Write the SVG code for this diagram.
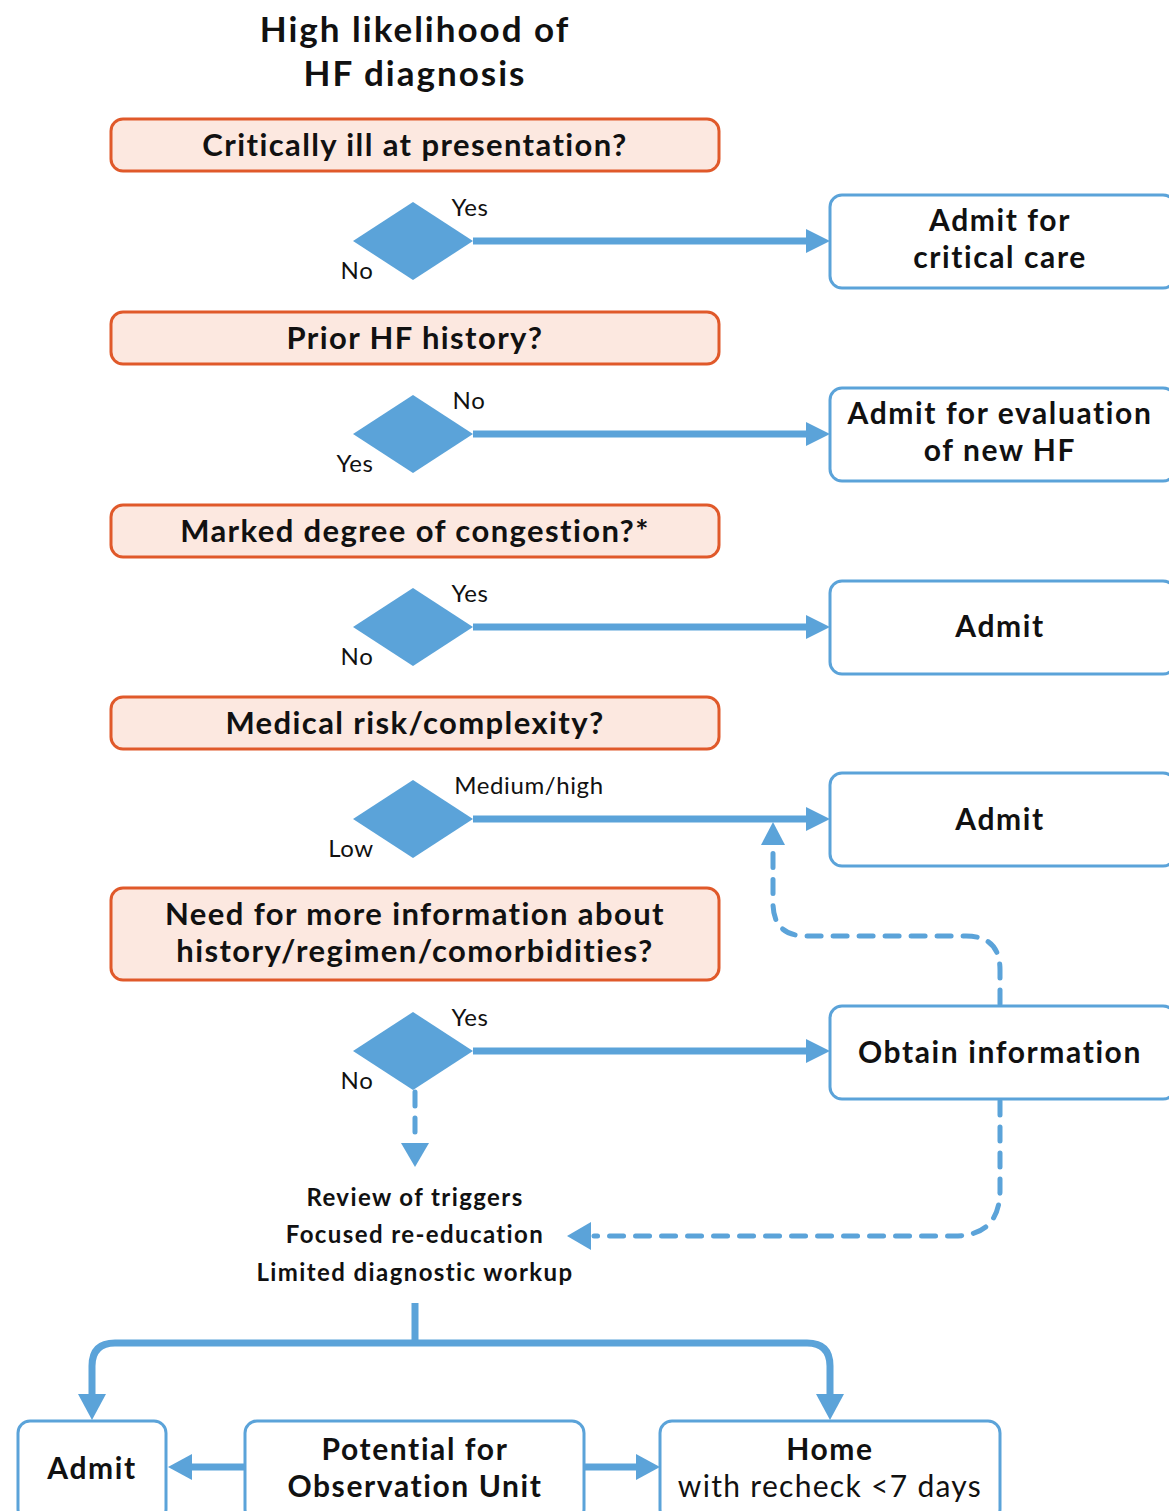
<svg xmlns="http://www.w3.org/2000/svg" width="1169" height="1511" viewBox="0 0 1169 1511">
<style>
text{font-family:Lato,"Open Sans","Liberation Sans",sans-serif;fill:#111;text-anchor:middle}
.t{font-size:35px;font-weight:bold;letter-spacing:2px}
.q{font-size:31px;font-weight:bold;letter-spacing:1.4px}
.r{font-size:30px;font-weight:bold;letter-spacing:1.6px}
.l{font-size:24px;letter-spacing:0.6px}
.b{font-size:24px;font-weight:bold;letter-spacing:1.4px}
.qbox{fill:#fce8e0;stroke:#e0592a;stroke-width:3}
.abox{fill:#fff;stroke:#5ba3d9;stroke-width:3}
.dia{fill:#5ba3d9}
.ln{fill:none;stroke:#5ba3d9;stroke-width:7}
.ds{fill:none;stroke:#5ba3d9;stroke-width:5;stroke-dasharray:14 12;stroke-linecap:round}
.ah{fill:#5ba3d9}
</style>
<g id="title">
<text class="t" x="415" y="42">High likelihood of</text>
<text class="t" x="415" y="86">HF diagnosis</text>
</g>
<g id="q1"><rect class="qbox" x="111" y="119" width="608" height="52" rx="12"/><text class="q" x="415" y="156">Critically ill at presentation?</text></g>
<g id="q2"><rect class="qbox" x="111" y="312" width="608" height="52" rx="12"/><text class="q" x="415" y="349">Prior HF history?</text></g>
<g id="q3"><rect class="qbox" x="111" y="505" width="608" height="52" rx="12"/><text class="q" x="415" y="542">Marked degree of congestion?*</text></g>
<g id="q4"><rect class="qbox" x="111" y="697" width="608" height="52" rx="12"/><text class="q" x="415" y="734">Medical risk/complexity?</text></g>
<g id="q5"><rect class="qbox" x="111" y="888" width="608" height="92" rx="12"/><text class="q" x="415" y="925">Need for more information about</text><text class="q" x="415" y="962">history/regimen/comorbidities?</text></g>
<g id="d1"><polygon class="dia" points="353,241 413,202 473,241 413,280"/><text class="l" x="470" y="216">Yes</text><text class="l" x="357" y="279">No</text></g>
<g id="d2"><polygon class="dia" points="353,434 413,395 473,434 413,473"/><text class="l" x="469" y="409">No</text><text class="l" x="355" y="472">Yes</text></g>
<g id="d3"><polygon class="dia" points="353,627 413,588 473,627 413,666"/><text class="l" x="470" y="602">Yes</text><text class="l" x="357" y="665">No</text></g>
<g id="d4"><polygon class="dia" points="353,819 413,780 473,819 413,858"/><text class="l" x="529" y="794">Medium/high</text><text class="l" x="351" y="857">Low</text></g>
<g id="d5"><polygon class="dia" points="353,1051 413,1012 473,1051 413,1090"/><text class="l" x="470" y="1026">Yes</text><text class="l" x="357" y="1089">No</text></g>
<g id="a1"><rect class="abox" x="830" y="195" width="345" height="93" rx="12"/><text class="r" x="1000" y="231">Admit for</text><text class="r" x="1000" y="268">critical care</text></g>
<g id="a2"><rect class="abox" x="830" y="388" width="345" height="93" rx="12"/><text class="r" x="1000" y="424">Admit for evaluation</text><text class="r" x="1000" y="461">of new HF</text></g>
<g id="a3"><rect class="abox" x="830" y="581" width="345" height="93" rx="12"/><text class="r" x="1000" y="637">Admit</text></g>
<g id="a4"><rect class="abox" x="830" y="773" width="345" height="93" rx="12"/><text class="r" x="1000" y="830">Admit</text></g>
<g id="a5"><rect class="abox" x="830" y="1006" width="345" height="93" rx="12"/><text class="r" x="1000" y="1063">Obtain information</text></g>
<g id="steps"><text class="b" x="415" y="1206">Review of triggers</text><text class="b" x="415" y="1243">Focused re-education</text><text class="b" x="415" y="1281">Limited diagnostic workup</text></g>
<g id="b1"><rect class="abox" x="18" y="1421" width="148" height="100" rx="12"/><text class="r" x="92" y="1479">Admit</text></g>
<g id="b2"><rect class="abox" x="245" y="1421" width="339" height="100" rx="12"/><text class="r" x="415" y="1460">Potential for</text><text class="r" x="415" y="1497">Observation Unit</text></g>
<g id="b3"><rect class="abox" x="660" y="1421" width="340" height="100" rx="12"/><text class="r" x="830" y="1460">Home</text><text class="r" x="830" y="1497" style="font-weight:normal;letter-spacing:1.3px">with recheck &lt;7 days</text></g>
<g id="connectors">
<line class="ln" x1="473" y1="241" x2="810" y2="241"/><polygon class="ah" points="806,229 830,241 806,253"/>
<line class="ln" x1="473" y1="434" x2="810" y2="434"/><polygon class="ah" points="806,422 830,434 806,446"/>
<line class="ln" x1="473" y1="627" x2="810" y2="627"/><polygon class="ah" points="806,615 830,627 806,639"/>
<line class="ln" x1="473" y1="819" x2="810" y2="819"/><polygon class="ah" points="806,807 830,819 806,831"/>
<line class="ln" x1="473" y1="1051" x2="810" y2="1051"/><polygon class="ah" points="806,1039 830,1051 806,1063"/>
<path class="ds" d="M1000,1004 V970 Q1000,936 966,936 H806 Q773,936 773,903 V850"/>
<polygon class="ah" points="761,845 773,822 785,845"/>
<path class="ds" d="M415,1092 V1140"/>
<polygon class="ah" points="401,1143 415,1167 429,1143"/>
<path class="ds" d="M1000,1101 V1190 Q1000,1236 954,1236 H594"/>
<polygon class="ah" points="591,1222 567,1236 591,1250"/>
<path class="ln" d="M415,1303 V1343 M92,1398 V1366 Q92,1343 115,1343 H807 Q830,1343 830,1366 V1398"/>
<polygon class="ah" points="78,1394 92,1420 106,1394"/>
<polygon class="ah" points="816,1394 830,1420 844,1394"/>
<line class="ln" x1="245" y1="1467" x2="188" y2="1467"/><polygon class="ah" points="192,1454 168,1467 192,1480"/>
<line class="ln" x1="584" y1="1467" x2="640" y2="1467"/><polygon class="ah" points="636,1454 660,1467 636,1480"/>
</g>
</svg>
